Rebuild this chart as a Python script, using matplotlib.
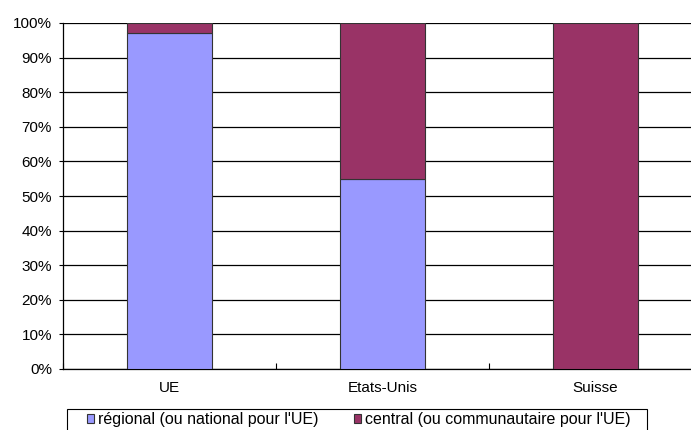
import matplotlib
matplotlib.use("Agg")
import matplotlib.pyplot as plt
import numpy as np
from matplotlib.ticker import FixedLocator, PercentFormatter
from matplotlib.patches import Rectangle

categories = ["UE", "Etats-Unis", "Suisse"]
regional = [97, 55, 0]
central = [3, 45, 100]
series_labels = ["régional (ou national pour l'UE)", "central (ou communautaire pour l'UE)"]
yticks = [0, 10, 20, 30, 40, 50, 60, 70, 80, 90, 100]

plt.rcParams['font.family'] = ['Liberation Sans', 'DejaVu Sans']
fig = plt.figure(figsize=(6.91, 4.30), dpi=100)
ax = fig.add_axes([63/691, 1-369/430, (702-63)/691, (369-23)/430])

x = np.arange(len(categories))
w = 0.4
b1 = ax.bar(x, regional, w, color="#9999FF", edgecolor="#333333", linewidth=0.8, label=series_labels[0], zorder=3)
b2 = ax.bar(x, central, w, bottom=regional, color="#993366", edgecolor="#333333", linewidth=0.8, label=series_labels[1], zorder=3)

ax.set_xlim(-0.5, len(categories) - 0.5)
ax.set_ylim(0, 100)
ax.set_yticks(yticks)
ax.yaxis.set_major_formatter(PercentFormatter(decimals=0))
ax.yaxis.grid(True, color="black", linewidth=0.9, zorder=0)
ax.set_axisbelow(True)
ax.set_xticks(x)
ax.set_xticklabels(categories)
ax.xaxis.set_minor_locator(FixedLocator(np.arange(-0.5, len(categories), 1.0)))
ax.tick_params(axis='x', which='major', length=0, pad=9, labelsize=11)
ax.tick_params(axis='x', which='minor', direction='in', length=4, width=0.8)
ax.tick_params(axis='y', which='major', direction='out', length=3, width=0.8, labelsize=11, pad=5)
for s in ["top", "right"]:
    ax.spines[s].set_visible(False)
ax.spines["left"].set_linewidth(0.9)
ax.spines["bottom"].set_linewidth(0.9)

# legend frame
fig.patches.append(Rectangle((67/691, -0.05), (647-67)/691, 1-409/430+0.05,
                             transform=fig.transFigure, fill=False,
                             edgecolor="black", linewidth=0.8))
leg = fig.legend(handles=[b1, b2], labels=series_labels, ncol=2, loc="upper left",
                 bbox_to_anchor=(87/691, 1-412/430), fontsize=11.5, frameon=False,
                 handlelength=0.45, handleheight=0.45,
                 handletextpad=0.25, columnspacing=2.2, borderpad=0, borderaxespad=0)

fig.savefig("out.png", dpi=100)
